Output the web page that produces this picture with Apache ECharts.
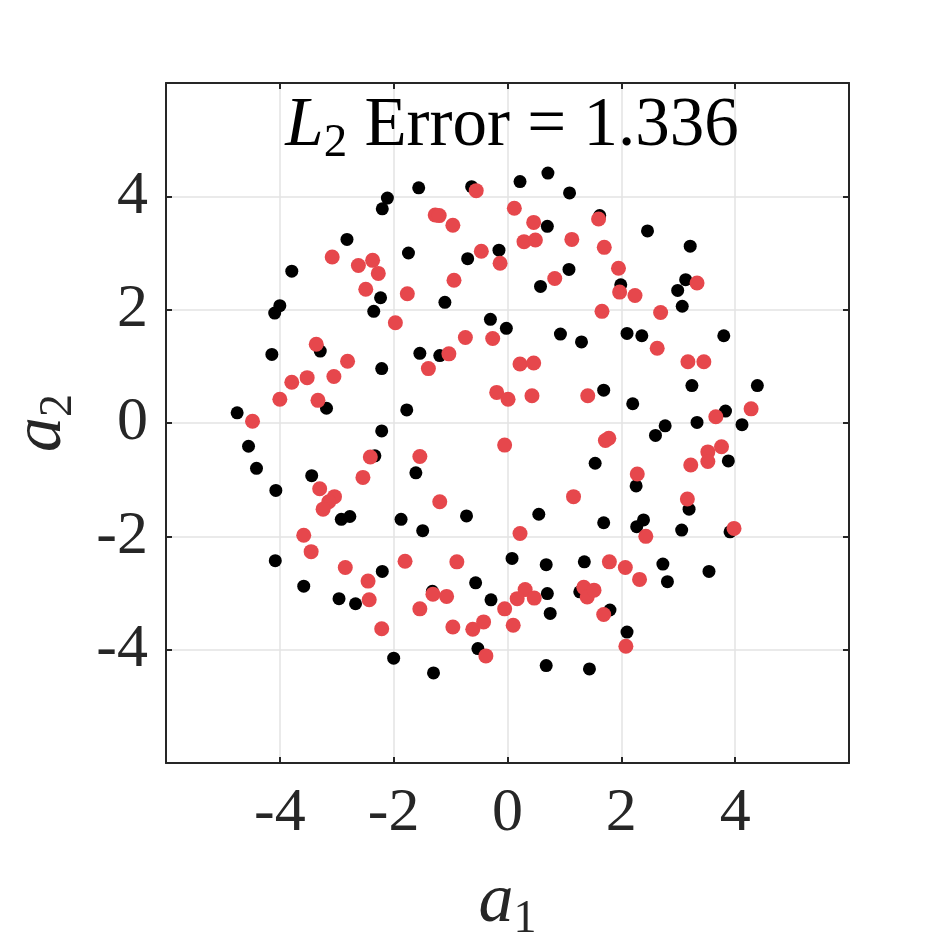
<!DOCTYPE html>
<html>
<head>
<meta charset="utf-8">
<script src="https://cdn.jsdelivr.net/npm/echarts@6/dist/echarts.min.js"></script>
<style>
  html, body { margin: 0; padding: 0; background: #ffffff; }
  #chart { width: 938px; height: 938px; }
</style>
</head>
<body>
<div id="chart"></div>
<script>
  // reference points (black) and fitted points (red), [a1, a2]
  const blackPts = [
    [-2.11, 3.97], [-2.20, 3.78], [-2.82, 3.24], [-1.74, 3.00], [-3.79, 2.68], [-4.00, 2.07],
    [-4.09, 1.94], [-2.23, 2.21], [-2.35, 1.97], [-1.56, 4.15], [-0.63, 4.17], [0.22, 4.26],
    [0.71, 4.41], [1.09, 4.06], [-0.70, 2.90], [-0.15, 3.05], [0.70, 3.47], [1.08, 2.71],
    [0.58, 2.41], [-1.10, 2.13], [-0.30, 1.83], [-0.02, 1.67], [0.93, 1.57], [1.30, 1.43],
    [1.62, 3.66], [2.46, 3.39], [3.21, 3.12], [3.13, 2.53], [2.99, 2.34], [3.07, 2.06],
    [1.99, 2.44], [2.10, 1.58], [2.36, 1.54], [3.80, 1.54], [-4.14, 1.21], [-3.29, 1.27],
    [-2.21, 0.96], [-4.75, 0.18], [-3.18, 0.26], [-1.77, 0.23], [-2.21, -0.14], [-4.55, -0.41],
    [-4.41, -0.80], [-2.33, -0.58], [-3.44, -0.93], [-4.07, -1.19], [-1.54, 1.23], [-1.19, 1.19],
    [-1.61, -0.88], [1.69, 0.58], [3.24, 0.66], [4.39, 0.66], [2.20, 0.34], [3.83, 0.21],
    [3.33, 0.01], [4.12, -0.03], [2.77, -0.05], [2.60, -0.22], [1.54, -0.71], [3.88, -0.67],
    [2.26, -1.11], [-2.92, -1.70], [-2.77, -1.65], [-1.87, -1.70], [-4.08, -2.43], [-2.20, -2.62],
    [-3.58, -2.88], [-2.96, -3.10], [-2.67, -3.19], [-2.00, -4.15], [-1.49, -1.90], [-0.72, -1.64],
    [0.55, -1.61], [0.08, -2.39], [0.68, -2.50], [1.35, -2.45], [-0.56, -2.82], [-0.29, -3.12],
    [0.70, -3.01], [0.75, -3.36], [1.27, -2.98], [-1.32, -2.97], [-0.52, -3.98], [0.68, -4.28],
    [-1.30, -4.41], [3.19, -1.52], [1.69, -1.76], [2.39, -1.71], [2.27, -1.83], [3.06, -1.89],
    [3.91, -1.92], [2.73, -2.49], [3.54, -2.62], [2.81, -2.80], [1.80, -3.30], [2.10, -3.69],
    [1.44, -4.34]
  ]
  const redPts = [
    [-3.08, 2.93], [-2.37, 2.87], [-2.62, 2.78], [-2.27, 2.64], [-2.49, 2.36], [-1.76, 2.28],
    [-1.97, 1.77], [-0.55, 4.10], [0.12, 3.79], [-1.27, 3.67], [-1.20, 3.66], [-0.96, 3.49],
    [0.46, 3.54], [0.29, 3.20], [0.49, 3.23], [1.13, 3.24], [-0.46, 3.03], [-0.13, 2.82],
    [0.83, 2.55], [-0.94, 2.52], [-0.74, 1.51], [-0.26, 1.49], [1.60, 3.60], [1.70, 3.10],
    [1.95, 2.73], [3.33, 2.47], [1.97, 2.31], [2.24, 2.25], [2.69, 1.95], [1.66, 1.97],
    [-3.36, 1.39], [-2.81, 1.09], [-3.79, 0.72], [-3.52, 0.80], [-3.05, 0.82], [-4.00, 0.42],
    [-3.33, 0.40], [-4.48, 0.03], [-2.41, -0.60], [-2.54, -0.96], [-3.30, -1.16], [-3.04, -1.30],
    [-3.14, -1.39], [-3.24, -1.52], [-1.03, 1.22], [-1.39, 0.96], [0.22, 1.04], [0.46, 1.06],
    [-0.19, 0.54], [0.01, 0.42], [0.43, 0.48], [1.41, 0.48], [-0.05, -0.39], [-1.54, -0.59],
    [-1.19, -1.39], [1.16, -1.30], [2.63, 1.32], [3.17, 1.08], [3.45, 1.08], [4.28, 0.25],
    [3.66, 0.11], [1.72, -0.31], [1.78, -0.27], [3.76, -0.42], [3.52, -0.51], [3.52, -0.68],
    [3.22, -0.74], [2.28, -0.90], [3.16, -1.34], [-3.58, -1.98], [-3.45, -2.27], [-1.80, -2.44],
    [-2.85, -2.55], [-2.45, -2.79], [-2.43, -3.12], [-2.21, -3.63], [0.22, -1.95], [-0.89, -2.45],
    [-1.31, -3.02], [-1.07, -3.06], [-1.54, -3.28], [0.31, -2.94], [0.17, -3.10], [0.47, -3.09],
    [-0.05, -3.28], [0.10, -3.57], [-0.96, -3.60], [-0.61, -3.64], [-0.42, -3.51], [-0.38, -4.11],
    [1.34, -2.90], [1.40, -3.07], [2.43, -2.00], [3.98, -1.86], [1.79, -2.45], [2.07, -2.55],
    [2.32, -2.76], [1.52, -2.95], [1.69, -3.38], [2.08, -3.94]
  ]
  const tickVals = [-4, -2, 0, 2, 4]
  const errValue = '1.336'

  const serif = 'Liberation Serif'
  const ink = '#262626'

  let myChart = echarts.init(document.getElementById('chart'))

  let boxAxis = {
    min: -6,
    max: 6,
    interval: 2,
    axisLine: { show: true, onZero: false, lineStyle: { color: ink, width: 2 } },
    axisTick: { show: true, inside: true, length: 6, lineStyle: { color: ink, width: 2 } },
    axisLabel: { show: false },
    splitLine: { show: false }
  }

  let labelFmt = function (v) {
    return tickVals.indexOf(v) >= 0 ? String(v) : ''
  }

  let nameRich = {
    a: { fontFamily: serif, fontStyle: 'italic', fontWeight: 'normal', fontSize: 70, color: ink, lineHeight: 80, verticalAlign: 'middle' },
    s: { fontFamily: serif, fontWeight: 'normal', fontSize: 46, color: ink, lineHeight: 46, verticalAlign: 'bottom' }
  }

  let option = {
    animation: false,
    backgroundColor: '#ffffff',
    title: {
      text: '{it|L}{sub|2}{t| Error = ' + errValue + '}',
      left: 507,
      textAlign: 'center',
      top: 82,
      textStyle: {
        fontWeight: 'normal',
        rich: {
          it: { fontFamily: serif, fontStyle: 'italic', fontWeight: 'normal', fontSize: 69, color: '#000', lineHeight: 80, verticalAlign: 'middle' },
          sub: { fontFamily: serif, fontWeight: 'normal', fontSize: 47, color: '#000', lineHeight: 47, verticalAlign: 'bottom' },
          t: { fontFamily: serif, fontWeight: 'normal', fontSize: 69, color: '#000', lineHeight: 80, verticalAlign: 'middle' }
        }
      }
    },
    grid: {
      left: 166,
      right: 89,
      top: 83,
      bottom: 175,
      containLabel: false,
      outerBoundsMode: 'none'
    },
    xAxis: [
      {
        type: 'value',
        position: 'bottom',
        min: -6,
        max: 6,
        interval: 2,
        axisLine: { show: true, onZero: false, lineStyle: { color: ink, width: 2 } },
        axisTick: { show: true, inside: true, length: 6, lineStyle: { color: ink, width: 2 } },
        axisLabel: { formatter: labelFmt, fontFamily: serif, fontSize: 62, color: ink, margin: 20 },
        splitLine: { show: true, lineStyle: { color: '#e3e3e3', width: 1.5 } },
        name: '{a|a}{s|1}',
        nameLocation: 'middle',
        nameGap: 100,
        nameTextStyle: { rich: nameRich }
      },
      Object.assign({ type: 'value', position: 'top' }, boxAxis)
    ],
    yAxis: [
      {
        type: 'value',
        position: 'left',
        min: -6,
        max: 6,
        interval: 2,
        axisLine: { show: true, onZero: false, lineStyle: { color: ink, width: 2 } },
        axisTick: { show: true, inside: true, length: 6, lineStyle: { color: ink, width: 2 } },
        axisLabel: { formatter: labelFmt, fontFamily: serif, fontSize: 62, color: ink, margin: 18 },
        splitLine: { show: true, lineStyle: { color: '#e3e3e3', width: 1.5 } },
        name: '{a|a}{s|2}',
        nameLocation: 'middle',
        nameRotate: 90,
        nameGap: 84,
        nameTextStyle: { rich: nameRich }
      },
      Object.assign({ type: 'value', position: 'right' }, boxAxis)
    ],
    series: [
      {
        name: 'true',
        type: 'scatter',
        xAxisIndex: 0,
        yAxisIndex: 0,
        symbol: 'circle',
        symbolSize: 13,
        itemStyle: { color: '#000000', opacity: 1 },
        data: blackPts,
        z: 2
      },
      {
        name: 'fit',
        type: 'scatter',
        xAxisIndex: 0,
        yAxisIndex: 0,
        symbol: 'circle',
        symbolSize: 15,
        itemStyle: { color: '#e6474c', opacity: 1 },
        data: redPts,
        z: 3
      }
    ]
  }

  myChart.setOption(option)
</script>
</body>
</html>
